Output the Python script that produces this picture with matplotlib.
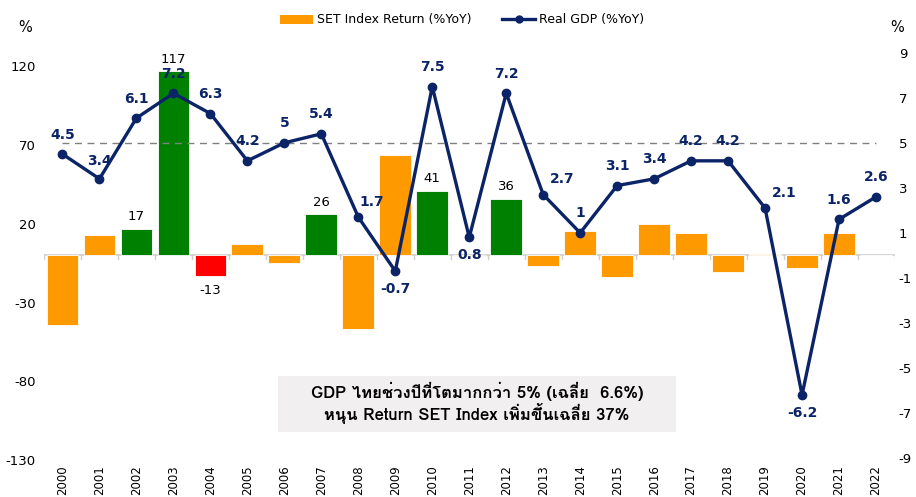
import matplotlib
matplotlib.use("Agg")
import matplotlib.pyplot as plt
from matplotlib import font_manager as fm
from matplotlib.ft2font import FT2Font
from matplotlib.lines import Line2D
from matplotlib.patches import Patch

years = [str(y) for y in range(2000, 2023)]
set_return = [-44, 13, 17, 117, -13, 7, -4.7, 26, -47, 63.5, 41, -0.7, 36,
              -6.5, 15.5, -13.5, 20, 14, -10.5, 1.0, -8, 14.5, 0]
gdp = [4.5, 3.4, 6.1, 7.2, 6.3, 4.2, 5, 5.4, 1.7, -0.7, 7.5, 0.8, 7.2,
       2.7, 1, 3.1, 3.4, 4.2, 4.2, 2.1, -6.2, 1.6, 2.6]
gdp_labels = ["4.5", "3.4", "6.1", "7.2", "6.3", "4.2", "5", "5.4", "1.7", "-0.7",
              "7.5", "0.8", "7.2", "2.7", "1", "3.1", "3.4", "4.2", "4.2", "2.1",
              "-6.2", "1.6", "2.6"]
left_ticks = [-130, -80, -30, 20, 70, 120]
right_ticks = [-9, -7, -5, -3, -1, 1, 3, 5, 7, 9]
gdp_threshold = 5
bar_label_years = ["2002", "2003", "2004", "2007", "2010", "2012"]
note_lines = ["GDP ไทยช่วงปีที่โตมากกว่า 5% (เฉลี่ย  6.6%)",
              "หนุน Return SET Index เพิ่มขึ้นเฉลี่ย 37%"]


def find_thai():
    for f in fm.fontManager.ttflist:
        try:
            if 0x0E01 in FT2Font(f.fname).get_charmap():
                return f.name
        except Exception:
            pass
    return None


thai = find_thai()
fam = [thai, "DejaVu Sans"] if thai else ["DejaVu Sans"]

ORANGE = "#FF9900"
GREEN = "#008000"
RED = "#FF0000"
NAVY = "#0B2467"

colors = []
for v, g in zip(set_return, gdp):
    if g > gdp_threshold:
        colors.append(RED if v < 0 else GREEN)
    else:
        colors.append(ORANGE)

fig = plt.figure(figsize=(9.16, 4.97), dpi=100)
ax = fig.add_axes([44 / 916, 1 - 460 / 497, (894.5 - 44) / 916, (460 - 35) / 497])
ax2 = ax.twinx()

x = list(range(len(years)))
ax.bar(x, set_return, width=0.86, color=colors, edgecolor="white", linewidth=0.6, zorder=2)
ax.set_xlim(-0.5, len(years) - 0.5)
k = 14.3
ax.set_ylim(-130, 140)
ax2.set_ylim(-130 / k, 140 / k)

ax.axhline(0, color="#D0D0D0", lw=1.2, zorder=1)
for b in range(len(years) + 1):
    ax.plot([b - 0.5, b - 0.5], [0, -2.5], color="#D0D0D0", lw=1, zorder=1)

for yr, xi, v in zip(years, x, set_return):
    if yr in bar_label_years:
        off = 4 if v >= 0 else -6
        ax.annotate(f"{v:g}", (xi, v), xytext=(0, off), textcoords="offset points",
                    ha="center", va="bottom" if v >= 0 else "top", fontsize=9.5, color="black")

ax2.plot([0, len(years) - 1], [gdp_threshold, gdp_threshold], color="#808080",
         lw=1, ls=(0, (5, 4)), zorder=3)
ax2.plot(x, gdp, color=NAVY, lw=2.4, marker="o", markersize=6, zorder=4)

offsets = {1: (0, 8), 8: (10, 6), 13: (14, 6), 19: (14, 6), 9: (0, -8), 11: (0, -8), 20: (0, -8)}
for i, (xi, g, lab) in enumerate(zip(x, gdp, gdp_labels)):
    dx, dy = offsets.get(i, (0, 9))
    ax2.annotate(lab, (xi, g), xytext=(dx, dy), textcoords="offset points",
                 ha="center", va="bottom" if dy > 0 else "top",
                 fontsize=10, fontweight="bold", color=NAVY, zorder=5)

ax.set_xticks(x)
ax.set_xticklabels(years, rotation=90, fontsize=8.5)
ax.set_yticks(left_ticks)
ax.set_yticklabels([str(t) for t in left_ticks], fontsize=9.5)
ax2.set_yticks(right_ticks)
ax2.set_yticklabels([str(t) for t in right_ticks], fontsize=9.5)
ax.tick_params(axis="x", length=0, pad=4)
ax.tick_params(axis="y", length=0, pad=6)
ax2.tick_params(axis="y", length=0, pad=3)
for a in (ax, ax2):
    for s in a.spines.values():
        s.set_visible(False)

fig.text(25 / 916, 1 - 28 / 497, "%", fontsize=10.5, ha="center", va="center")
fig.text(897 / 916, 1 - 27 / 497, "%", fontsize=10.5, ha="center", va="center")

handles = [Patch(facecolor=ORANGE, edgecolor="none"),
           Line2D([0], [0], color=NAVY, lw=2.4, marker="o", markersize=5)]
fig.legend(handles, ["SET Index Return (%YoY)", "Real GDP (%YoY)"],
           loc="center", bbox_to_anchor=(462 / 916, 1 - 20 / 497), ncol=2,
           frameon=False, fontsize=9, handlelength=2.6, columnspacing=2.5,
           handletextpad=0.3)

fig.patches.append(matplotlib.patches.Rectangle(
    (278 / 916, 1 - 432 / 497), (676 - 278) / 916, (432 - 376) / 497,
    transform=fig.transFigure, facecolor="#F1EFEF", edgecolor="none", zorder=0.5))
fig.text(477 / 916, 1 - 391 / 497, note_lines[0], family=fam, fontsize=12,
         fontweight="bold", ha="center", va="center", zorder=6)
fig.text(477 / 916, 1 - 414 / 497, note_lines[1], family=fam, fontsize=12,
         fontweight="bold", ha="center", va="center", zorder=6)

fig.savefig("out.png", dpi=100)
